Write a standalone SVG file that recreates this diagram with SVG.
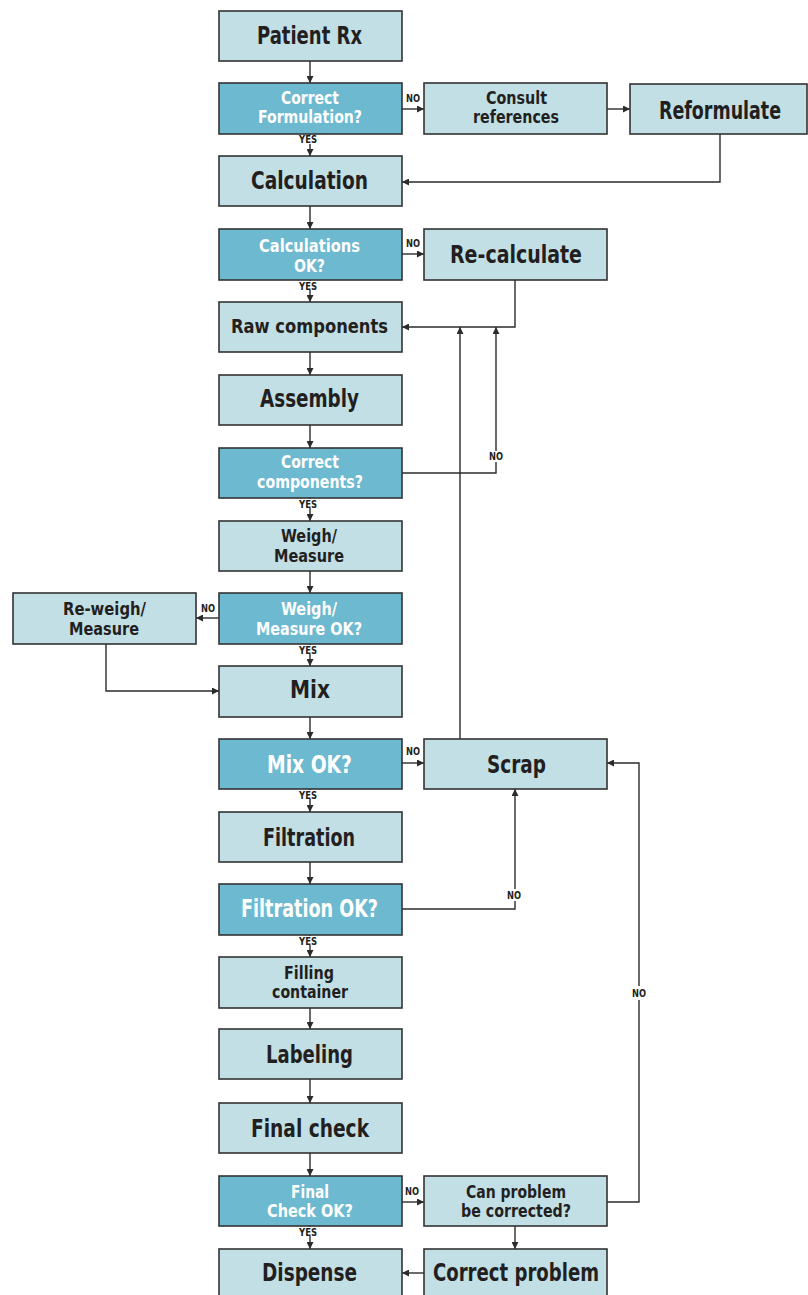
<svg xmlns="http://www.w3.org/2000/svg" width="808" height="1295" viewBox="0 0 808 1295">
<defs>
<marker id="ah" viewBox="0 0 10 10" refX="10" refY="5" markerWidth="7" markerHeight="7" markerUnits="userSpaceOnUse" orient="auto">
<path d="M0,0 L10,5 L0,10 z" fill="#2b2b2b"/>
</marker>
<style>
.p{fill:#c2dfe6;stroke:#333333;stroke-width:1.6}
.d{fill:#6db9cf;stroke:#333333;stroke-width:1.6}
text{font-family:"DejaVu Sans Condensed","DejaVu Sans","Liberation Sans",sans-serif;font-weight:bold;text-anchor:middle}
.t{fill:#231f20;font-size:24px}
.t2{fill:#231f20;font-size:18.5px}
.w{fill:#ffffff;font-size:24px}
.w2{fill:#ffffff;font-size:18.5px}
.l{fill:#231f20;font-size:10px}
.c{fill:none;stroke:#2b2b2b;stroke-width:1.4}
.bg{fill:#ffffff}
</style>
</defs>
<rect width="808" height="1295" fill="#ffffff"/>
<g id="connectors">
<path class="c" d="M310,61 V83" marker-end="url(#ah)"/>
<path class="c" d="M310,134 V156" marker-end="url(#ah)"/>
<path class="c" d="M402,109 H424" marker-end="url(#ah)"/>
<path class="c" d="M607,109 H630" marker-end="url(#ah)"/>
<path class="c" d="M720,134 V182 H402" marker-end="url(#ah)"/>
<path class="c" d="M310,206 V229" marker-end="url(#ah)"/>
<path class="c" d="M402,254 H424" marker-end="url(#ah)"/>
<path class="c" d="M310,280 V302" marker-end="url(#ah)"/>
<path class="c" d="M515,280 V327 H402" marker-end="url(#ah)"/>
<path class="c" d="M310,352 V375" marker-end="url(#ah)"/>
<path class="c" d="M310,425 V448" marker-end="url(#ah)"/>
<path class="c" d="M402,473 H496 V327" marker-end="url(#ah)"/>
<path class="c" d="M310,498 V521" marker-end="url(#ah)"/>
<path class="c" d="M310,571 V593" marker-end="url(#ah)"/>
<path class="c" d="M219,618 H196" marker-end="url(#ah)"/>
<path class="c" d="M106,644 V691 H219" marker-end="url(#ah)"/>
<path class="c" d="M310,644 V666" marker-end="url(#ah)"/>
<path class="c" d="M310,717 V739" marker-end="url(#ah)"/>
<path class="c" d="M402,763 H424" marker-end="url(#ah)"/>
<path class="c" d="M460,739 V327" marker-end="url(#ah)"/>
<path class="c" d="M310,789 V812" marker-end="url(#ah)"/>
<path class="c" d="M310,862 V884" marker-end="url(#ah)"/>
<path class="c" d="M402,909 H515 V789" marker-end="url(#ah)"/>
<path class="c" d="M310,935 V957" marker-end="url(#ah)"/>
<path class="c" d="M310,1008 V1029" marker-end="url(#ah)"/>
<path class="c" d="M310,1079 V1103" marker-end="url(#ah)"/>
<path class="c" d="M310,1153 V1176" marker-end="url(#ah)"/>
<path class="c" d="M402,1202 H424" marker-end="url(#ah)"/>
<path class="c" d="M607,1202 H639 V763 H607" marker-end="url(#ah)"/>
<path class="c" d="M515,1226 V1249" marker-end="url(#ah)"/>
<path class="c" d="M310,1226 V1249" marker-end="url(#ah)"/>
<path class="c" d="M424,1273 H402" marker-end="url(#ah)"/>
<rect class="bg" x="298" y="135" width="22" height="9"/>
<text class="l" x="308" y="143" textLength="18" lengthAdjust="spacingAndGlyphs">YES</text>
<text class="l" x="413" y="102" textLength="14" lengthAdjust="spacingAndGlyphs">NO</text>
<rect class="bg" x="298" y="281" width="22" height="9"/>
<text class="l" x="308" y="290" textLength="18" lengthAdjust="spacingAndGlyphs">YES</text>
<text class="l" x="413" y="247" textLength="14" lengthAdjust="spacingAndGlyphs">NO</text>
<rect class="bg" x="487" y="451" width="18" height="11"/>
<text class="l" x="496" y="460" textLength="14" lengthAdjust="spacingAndGlyphs">NO</text>
<rect class="bg" x="298" y="499" width="22" height="9"/>
<text class="l" x="308" y="508" textLength="18" lengthAdjust="spacingAndGlyphs">YES</text>
<text class="l" x="208" y="612" textLength="14" lengthAdjust="spacingAndGlyphs">NO</text>
<rect class="bg" x="298" y="645" width="22" height="9"/>
<text class="l" x="308" y="654" textLength="18" lengthAdjust="spacingAndGlyphs">YES</text>
<text class="l" x="413" y="755" textLength="14" lengthAdjust="spacingAndGlyphs">NO</text>
<rect class="bg" x="298" y="790" width="22" height="9"/>
<text class="l" x="308" y="799" textLength="18" lengthAdjust="spacingAndGlyphs">YES</text>
<rect class="bg" x="505" y="889" width="19" height="12"/>
<text class="l" x="514" y="899" textLength="14" lengthAdjust="spacingAndGlyphs">NO</text>
<rect class="bg" x="298" y="936" width="22" height="9"/>
<text class="l" x="308" y="945" textLength="18" lengthAdjust="spacingAndGlyphs">YES</text>
<rect class="bg" x="630" y="986" width="18" height="14"/>
<text class="l" x="639" y="997" textLength="14" lengthAdjust="spacingAndGlyphs">NO</text>
<text class="l" x="412" y="1195" textLength="14" lengthAdjust="spacingAndGlyphs">NO</text>
<rect class="bg" x="298" y="1227" width="22" height="9"/>
<text class="l" x="308" y="1236" textLength="18" lengthAdjust="spacingAndGlyphs">YES</text>
</g>
<g id="patient-rx"><rect class="p" x="219" y="11" width="183" height="50"/><text class="t" x="309.5" y="44" textLength="105" lengthAdjust="spacingAndGlyphs">Patient Rx</text></g>
<g id="correct-formulation"><rect class="d" x="219" y="83" width="183" height="51"/><text class="w2" x="310" y="104" textLength="58" lengthAdjust="spacingAndGlyphs">Correct</text><text class="w2" x="310" y="123" textLength="104" lengthAdjust="spacingAndGlyphs">Formulation?</text></g>
<g id="consult-references"><rect class="p" x="424" y="83" width="183" height="51"/><text class="t2" x="516.5" y="104" textLength="61" lengthAdjust="spacingAndGlyphs">Consult</text><text class="t2" x="516" y="123" textLength="86" lengthAdjust="spacingAndGlyphs">references</text></g>
<g id="reformulate"><rect class="p" x="630" y="84" width="177" height="50"/><text class="t" x="720" y="119" textLength="122" lengthAdjust="spacingAndGlyphs">Reformulate</text></g>
<g id="calculation"><rect class="p" x="219" y="156" width="183" height="50"/><text class="t" x="309.5" y="189" textLength="117" lengthAdjust="spacingAndGlyphs">Calculation</text></g>
<g id="calculations-ok"><rect class="d" x="219" y="229" width="183" height="51"/><text class="w2" x="309.5" y="252" textLength="101" lengthAdjust="spacingAndGlyphs">Calculations</text><text class="w2" x="309.5" y="272" textLength="31" lengthAdjust="spacingAndGlyphs">OK?</text></g>
<g id="re-calculate"><rect class="p" x="424" y="229" width="183" height="51"/><text class="t" x="516" y="263" textLength="132" lengthAdjust="spacingAndGlyphs">Re-calculate</text></g>
<g id="raw-components"><rect class="p" x="219" y="302" width="183" height="50"/><text class="t2" x="309.5" y="333" textLength="157" lengthAdjust="spacingAndGlyphs" style="font-size:20px">Raw components</text></g>
<g id="assembly"><rect class="p" x="219" y="375" width="183" height="50"/><text class="t" x="309.5" y="407" textLength="99" lengthAdjust="spacingAndGlyphs">Assembly</text></g>
<g id="correct-components"><rect class="d" x="219" y="448" width="183" height="50"/><text class="w2" x="310" y="468" textLength="58" lengthAdjust="spacingAndGlyphs">Correct</text><text class="w2" x="310" y="488" textLength="106" lengthAdjust="spacingAndGlyphs">components?</text></g>
<g id="weigh-measure"><rect class="p" x="219" y="521" width="183" height="50"/><text class="t2" x="309" y="542" textLength="56" lengthAdjust="spacingAndGlyphs">Weigh/</text><text class="t2" x="309" y="562" textLength="70" lengthAdjust="spacingAndGlyphs">Measure</text></g>
<g id="weigh-measure-ok"><rect class="d" x="219" y="593" width="183" height="51"/><text class="w2" x="309" y="615" textLength="56" lengthAdjust="spacingAndGlyphs">Weigh/</text><text class="w2" x="309" y="635" textLength="106" lengthAdjust="spacingAndGlyphs">Measure OK?</text></g>
<g id="re-weigh-measure"><rect class="p" x="13" y="593" width="183" height="51"/><text class="t2" x="104.5" y="615" textLength="83" lengthAdjust="spacingAndGlyphs">Re-weigh/</text><text class="t2" x="104" y="635" textLength="70" lengthAdjust="spacingAndGlyphs">Measure</text></g>
<g id="mix"><rect class="p" x="219" y="666" width="183" height="51"/><text class="t" x="310" y="698" textLength="40" lengthAdjust="spacingAndGlyphs">Mix</text></g>
<g id="mix-ok"><rect class="d" x="219" y="739" width="183" height="50"/><text class="w" x="309.5" y="773" textLength="85" lengthAdjust="spacingAndGlyphs">Mix OK?</text></g>
<g id="scrap"><rect class="p" x="424" y="739" width="183" height="50"/><text class="t" x="516.5" y="773" textLength="59" lengthAdjust="spacingAndGlyphs">Scrap</text></g>
<g id="filtration"><rect class="p" x="219" y="812" width="183" height="50"/><text class="t" x="309" y="846" textLength="92" lengthAdjust="spacingAndGlyphs">Filtration</text></g>
<g id="filtration-ok"><rect class="d" x="219" y="884" width="183" height="51"/><text class="w" x="309.5" y="917" textLength="137" lengthAdjust="spacingAndGlyphs">Filtration OK?</text></g>
<g id="filling-container"><rect class="p" x="219" y="957" width="183" height="51"/><text class="t2" x="309" y="979" textLength="50" lengthAdjust="spacingAndGlyphs">Filling</text><text class="t2" x="310" y="998" textLength="76" lengthAdjust="spacingAndGlyphs">container</text></g>
<g id="labeling"><rect class="p" x="219" y="1029" width="183" height="50"/><text class="t" x="309.5" y="1063" textLength="87" lengthAdjust="spacingAndGlyphs">Labeling</text></g>
<g id="final-check"><rect class="p" x="219" y="1103" width="183" height="50"/><text class="t" x="310" y="1137" textLength="118" lengthAdjust="spacingAndGlyphs">Final check</text></g>
<g id="final-check-ok"><rect class="d" x="219" y="1176" width="183" height="50"/><text class="w2" x="310" y="1198" textLength="38" lengthAdjust="spacingAndGlyphs">Final</text><text class="w2" x="310" y="1217" textLength="86" lengthAdjust="spacingAndGlyphs">Check OK?</text></g>
<g id="can-problem"><rect class="p" x="424" y="1176" width="183" height="50"/><text class="t2" x="516" y="1198" textLength="100" lengthAdjust="spacingAndGlyphs">Can problem</text><text class="t2" x="516" y="1217" textLength="110" lengthAdjust="spacingAndGlyphs">be corrected?</text></g>
<g id="dispense"><rect class="p" x="219" y="1249" width="183" height="51"/><text class="t" x="309.5" y="1281" textLength="95" lengthAdjust="spacingAndGlyphs">Dispense</text></g>
<g id="correct-problem"><rect class="p" x="424" y="1249" width="183" height="51"/><text class="t" x="516" y="1281" textLength="166" lengthAdjust="spacingAndGlyphs">Correct problem</text></g>
</svg>
